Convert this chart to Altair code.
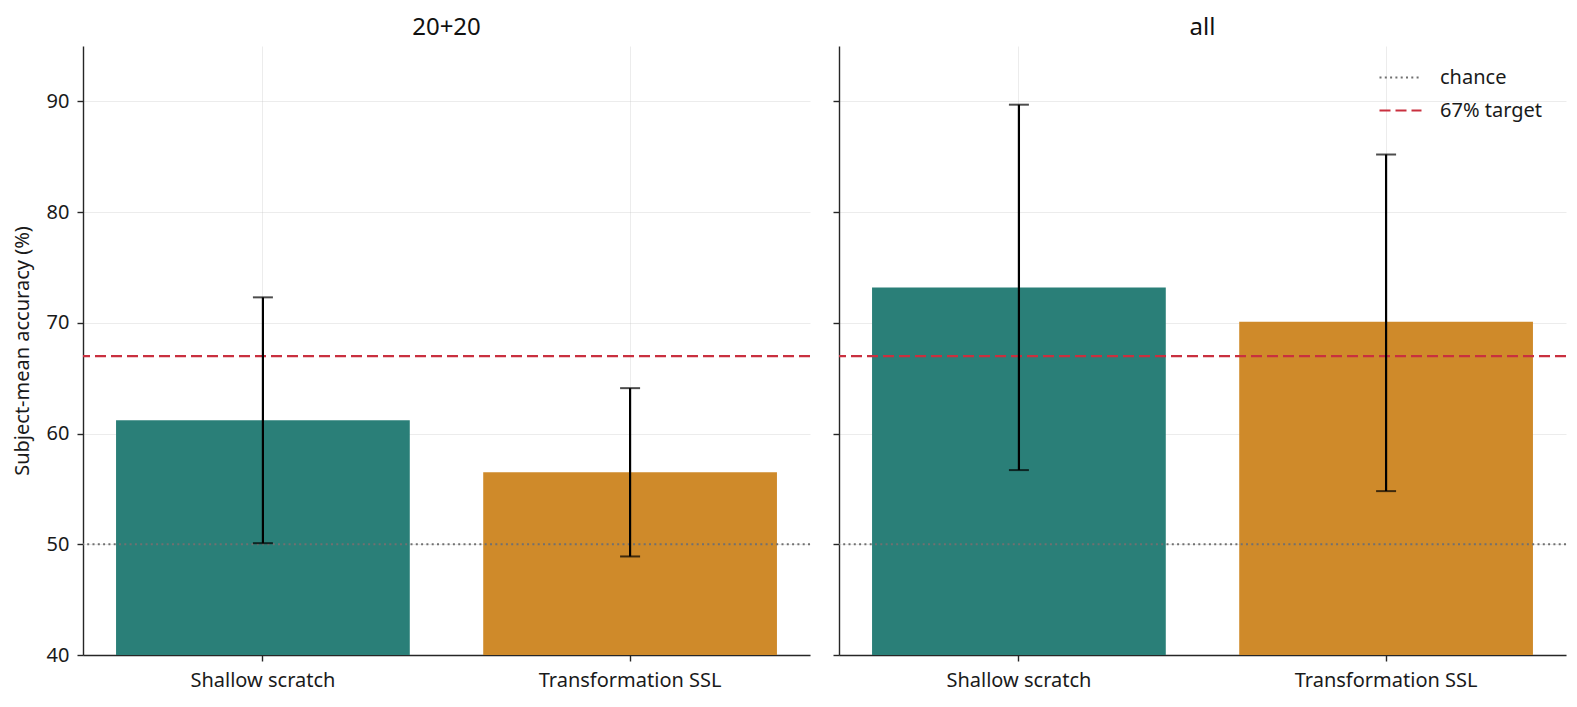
import altair as alt
import pandas as pd

FONT = "Noto Sans"

panels = ["20+20", "20+20", "all", "all"]
methods = ["Shallow scratch", "Transformation SSL", "Shallow scratch", "Transformation SSL"]
means = [61.2, 56.5, 73.2, 70.1]
err_lo = [50.1, 48.9, 56.7, 54.8]
err_hi = [72.3, 64.1, 89.7, 85.2]

method_order = ["Shallow scratch", "Transformation SSL"]
method_colors = ["#2a7f78", "#cf8a2a"]

ref_labels = ["chance", "67% target"]
ref_values = [50, 67]
ref_colors = ["#707070", "#c9303f"]
ref_dashes = [[2, 3.3], [11, 5]]

y_ticks = [40, 50, 60, 70, 80, 90]

df = pd.DataFrame({"panel": panels, "method": methods, "mean": means,
                   "lo": err_lo, "hi": err_hi})
ref_df = pd.DataFrame({"line": ref_labels, "value": ref_values})

yscale = alt.Scale(domain=[40, 95], nice=False, zero=False)


def panel(name, first, width):
    d = df[df["panel"] == name]
    x = alt.X("method:N", sort=method_order,
              scale=alt.Scale(paddingInner=0.2, paddingOuter=0.09),
              axis=alt.Axis(title=None, labelAngle=0, grid=True, labelPadding=9,
                            labelLimit=400))
    yaxis = alt.Axis(values=y_ticks, grid=True, labels=first,
                     title="Subject-mean accuracy (%)" if first else None)
    base = alt.Chart(d)
    bars = base.mark_bar(clip=True).encode(
        x=x,
        y=alt.Y("mean:Q", scale=yscale, axis=yaxis),
        fill=alt.Fill("method:N", scale=alt.Scale(domain=method_order, range=method_colors),
                      legend=None),
    )
    refs = alt.Chart(ref_df).mark_rule(strokeWidth=2.2).encode(
        y=alt.Y("value:Q", scale=yscale),
        stroke=alt.Stroke("line:N", sort=ref_labels,
                          scale=alt.Scale(domain=ref_labels, range=ref_colors),
                          legend=alt.Legend(title=None)),
        strokeDash=alt.StrokeDash("line:N", sort=ref_labels,
                                  scale=alt.Scale(domain=ref_labels, range=ref_dashes),
                                  legend=alt.Legend(title=None)),
    )
    errs = base.mark_rule(color="black", strokeWidth=2.2).encode(
        x=x, y=alt.Y("lo:Q", scale=yscale), y2="hi:Q")
    cap_lo = base.mark_tick(color="black", thickness=2, size=20).encode(
        x=x, y=alt.Y("lo:Q", scale=yscale))
    cap_hi = base.mark_tick(color="black", thickness=2, size=20).encode(
        x=x, y=alt.Y("hi:Q", scale=yscale))
    return alt.layer(bars, refs, errs, cap_lo, cap_hi).properties(
        width=width, height=609,
        title=alt.TitleParams(name, fontSize=24, fontWeight="normal", font=FONT,
                              color="#111111", offset=6),
    )


chart = alt.hconcat(panel("20+20", True, 727), panel("all", False, 727), spacing=20).properties(
    padding={"left": 12, "top": 16, "right": 5, "bottom": 5},
).configure_view(stroke=None).configure_axis(
    labelFont=FONT, titleFont=FONT, labelFontSize=20, titleFontSize=20,
    titleFontWeight="normal", labelColor="#1a1a1a", titleColor="#1a1a1a",
    domainColor="#262626", tickColor="#262626", domainWidth=1.4, tickWidth=1.4,
    tickSize=6, labelPadding=8, titlePadding=14,
    gridColor="#c8c8c8", gridOpacity=0.35, zindex=1,
).configure_legend(
    orient="none", legendX=1295, legendY=9, labelFont=FONT, labelFontSize=20,
    labelColor="#1a1a1a", symbolType="stroke", symbolSize=1764, symbolStrokeWidth=2.2,
    rowPadding=0, padding=0, labelOffset=17,
)

chart.save("out.html", embed_options={"renderer": "svg", "actions": False})
